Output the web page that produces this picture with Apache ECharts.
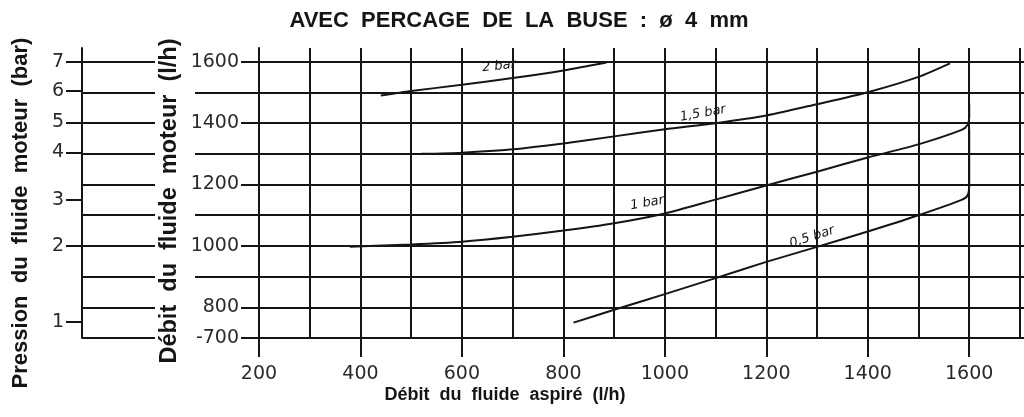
<!DOCTYPE html>
<html><head><meta charset="utf-8">
<script src="https://cdn.jsdelivr.net/npm/echarts@6/dist/echarts.min.js"></script>
<style>html,body{margin:0;padding:0;background:#fff}#c{width:1024px;height:417px}</style>
</head><body><div id="c"></div>
<script>
// ---- data ----
const xTickLabels = [200, 400, 600, 800, 1000, 1200, 1400, 1600];
const yTickLabels = [700, 800, 1000, 1200, 1400, 1600];
const yExtraTicks = [900, 1100, 1300, 1500];
const pressureLabels = ['1', '2', '3', '4', '5', '6', '7'];
const pressureDebit = [752, 1000, 1150, 1305, 1403, 1505, 1600];
const curveNames = ['2 bar', '1,5 bar', '1 bar', '0,5 bar'];
const bar2 = [[440,1490],[500,1505],[600,1525],[700,1547],[800,1572],[885,1598]];
const bar15 = [[520,1300],[600,1304],[700,1315],[800,1334],[900,1357],[1000,1380],[1100,1400],[1200,1425],[1300,1462],[1400,1501],[1500,1551],[1562,1595]];
const bar1 = [[379,997],[500,1005],[600,1014],[700,1030],[800,1050],[900,1074],[1000,1106],[1100,1151],[1200,1197],[1300,1242],[1400,1288],[1500,1331],[1585,1378],[1597,1395],[1600,1420],[1600,1465]];
const bar05 = [[820,750],[900,792],[1000,843],[1100,895],[1200,948],[1300,997],[1400,1047],[1500,1100],[1585,1150],[1597,1165],[1600,1200],[1600,1380]];

const ink = '#151515';
const numFont = {fontFamily: 'DejaVu Sans', fontSize: 19, color: '#2a2a2a'};
const line = {color: ink, width: 2};

function curve(name, data, coord, rot) {
  return {
    type: 'line', name: name, data: data, xAxisIndex: 0, yAxisIndex: 0,
    showSymbol: false, smooth: 0.25, lineStyle: {color: ink, width: 2},
    markPoint: {
      symbol: 'circle', symbolSize: 0, animation: false,
      label: {show: true, formatter: '{b}', rotate: rot, fontStyle: 'italic',
              fontFamily: 'DejaVu Sans', fontSize: 13, color: ink, position: 'inside'},
      data: [{name: name, coord: coord}]
    }
  };
}

const chart = echarts.init(document.getElementById('c'));
chart.setOption({
  animation: false,
  backgroundColor: '#fff',
  title: {
    text: 'AVEC  PERCAGE  DE  LA  BUSE  :  ø  4  mm', left: 514, textAlign: 'center', top: 5,
    textStyle: {fontFamily: 'Liberation Sans', fontWeight: 'bold', fontSize: 22, color: ink}
  },
  grid: [
    {left: 259, right: 0, top: 48, bottom: 79},
    {left: 82, width: 73, top: 48, bottom: 79}
  ],
  xAxis: [
    {gridIndex: 0, type: 'value', min: 200, max: 1708, interval: 100, position: 'bottom',
     axisLine: {show: true, lineStyle: line}, axisTick: {show: false}, axisLabel: {show: false},
     splitLine: {show: true, showMaxLine: false, lineStyle: line}},
    {gridIndex: 0, type: 'value', min: 200, max: 1708, position: 'bottom',
     axisLine: {show: false},
     axisTick: {show: true, customValues: xTickLabels, length: 19, lineStyle: line},
     axisLabel: {show: true, customValues: xTickLabels, margin: 27, ...numFont,
                 formatter: v => String(v)},
     splitLine: {show: false}},
    {gridIndex: 1, type: 'value', min: 0, max: 1, show: false}
  ],
  yAxis: [
    {gridIndex: 0, type: 'value', min: 700, max: 1645, interval: 100, position: 'left',
     axisLine: {show: true, lineStyle: line}, axisTick: {show: false}, axisLabel: {show: false},
     splitLine: {show: true, showMaxLine: false, lineStyle: line}},
    {gridIndex: 0, type: 'value', min: 700, max: 1645, position: 'left',
     axisLine: {show: false},
     axisTick: {show: true, customValues: yTickLabels, length: 18, lineStyle: line},
     axisLabel: {show: true, customValues: yTickLabels, margin: 20, ...numFont,
                 formatter: v => (v === 700 ? '-700' : String(v))},
     splitLine: {show: false}},
    {gridIndex: 0, type: 'value', min: 700, max: 1645, position: 'left',
     axisLine: {show: false},
     axisTick: {show: true, customValues: yExtraTicks, length: 64, lineStyle: line},
     axisLabel: {show: false}, splitLine: {show: false}},
    {gridIndex: 1, type: 'value', min: 700, max: 1645, interval: 100, position: 'left',
     axisLine: {show: true, lineStyle: line}, axisTick: {show: false}, axisLabel: {show: false},
     splitLine: {show: true, showMaxLine: false, lineStyle: line}},
    {gridIndex: 1, type: 'value', min: 700, max: 1645, position: 'left',
     axisLine: {show: false},
     axisTick: {show: true, customValues: pressureDebit, length: 16, lineStyle: line},
     axisLabel: {show: true, customValues: pressureDebit, margin: 18, ...numFont,
                 formatter: v => pressureLabels[pressureDebit.indexOf(v)] || ''},
     splitLine: {show: false}}
  ],
  series: [
    curve(curveNames[0], bar2, [673, 1586], 6),
    curve(curveNames[1], bar15, [1075, 1432], 10),
    curve(curveNames[2], bar1, [965, 1140], 10),
    curve(curveNames[3], bar05, [1290, 1029], 18)
  ],
  graphic: [
    {type: 'text', x: 21, y: 213, rotation: Math.PI / 2,
     style: {text: 'Pression  du  fluide  moteur  (bar)', fontFamily: 'Liberation Sans', fontWeight: 'bold',
             fontSize: 22, fill: ink, align: 'center', verticalAlign: 'middle'}},
    {type: 'text', x: 170, y: 201, rotation: Math.PI / 2,
     style: {text: 'Débit  du  fluide  moteur  (l/h)', fontFamily: 'Liberation Sans', fontWeight: 'bold',
             fontSize: 23.5, fill: ink, align: 'center', verticalAlign: 'middle'}},
    {type: 'text', x: 505, y: 395,
     style: {text: 'Débit  du  fluide  aspiré  (l/h)', fontFamily: 'Liberation Sans', fontWeight: 'bold',
             fontSize: 18, fill: ink, align: 'center', verticalAlign: 'middle'}}
  ]
});
</script></body></html>
